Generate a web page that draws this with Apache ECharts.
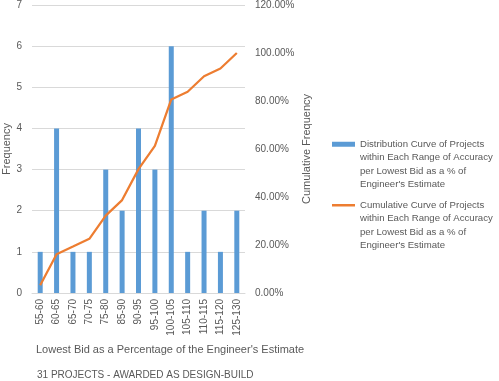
<!DOCTYPE html>
<html>
<head>
<meta charset="utf-8">
<script src="https://cdn.jsdelivr.net/npm/echarts@6/dist/echarts.min.js"></script>
<style>html,body{margin:0;padding:0;background:#fff}#c{width:499px;height:381px}</style>
</head>
<body>
<div id="c"></div>
<script>
var categories = ['55-60','60-65','65-70','70-75','75-80','85-90','90-95','95-100','100-105','105-110','110-115','115-120','125-130'];
var frequency = [1,4,1,1,3,2,4,3,6,1,2,1,2];
var cumulative = [3.23,16.13,19.35,22.58,32.26,38.71,51.61,61.29,80.65,83.87,90.32,93.55,100.00];
var barName = 'Distribution Curve of Projects within Each Range of Accuracy per Lowest Bid as a % of Engineer\'s Estimate';
var lineName = 'Cumulative Curve of Projects within Each Range of Accuracy per Lowest Bid as a % of Engineer\'s Estimate';
var xTitle = 'Lowest Bid as a Percentage of the Engineer\'s Estimate';
var subTitle = '31 PROJECTS - AWARDED AS DESIGN-BUILD';

var FONT = 'Liberation Sans';
var TXT = '#595959';
function wrap(n){
  // three leading blank lines keep the first text line level with the legend icon
  return n === barName
    ? '\n\n\nDistribution Curve of Projects\nwithin Each Range of Accuracy\nper Lowest Bid as a % of\nEngineer\'s Estimate'
    : '\n\n\nCumulative Curve of Projects\nwithin Each Range of Accuracy\nper Lowest Bid as a % of\nEngineer\'s Estimate';
}
var legText = {color: TXT, fontFamily: FONT, fontSize: 9.6, lineHeight: 13.5};
var chart = echarts.init(document.getElementById('c'), null, {renderer:'canvas'});
chart.setOption({
  animation: false,
  textStyle: {fontFamily: FONT},
  title: [
    {text: xTitle, left: 36, top: 344, padding: 0, textStyle: {color: TXT, fontFamily: FONT, fontSize: 11, fontWeight: 'normal'}},
    {text: subTitle, left: 37, top: 370, padding: 0, textStyle: {color: TXT, fontFamily: FONT, fontSize: 10, fontWeight: 'normal'}}
  ],
  grid: {left: 32, right: 254, top: 4, bottom: 88},
  legend: [
    {data: [barName], orient: 'vertical', left: 332, top: 97, padding: 0, itemWidth: 23, itemHeight: 5, icon: 'rect', formatter: wrap, textStyle: legText},
    {data: [lineName], orient: 'vertical', left: 332, top: 158, padding: 0, itemWidth: 23, itemHeight: 2.5, icon: 'rect', formatter: wrap, textStyle: legText}
  ],
  xAxis: {
    type: 'category', data: categories,
    axisLine: {show: true, lineStyle: {color: '#D9D9D9'}},
    axisTick: {show: false},
    axisLabel: {rotate: 90, color: TXT, fontSize: 10, fontFamily: FONT, margin: 6, interval: 0}
  },
  yAxis: [
    {type: 'value', min: 0, max: 7, interval: 1,
     name: 'Frequency', nameLocation: 'middle', nameGap: 17,
     nameTextStyle: {color: TXT, fontSize: 11, fontFamily: FONT},
     axisLabel: {color: TXT, fontSize: 10, fontFamily: FONT, margin: 10},
     axisLine: {show: false}, axisTick: {show: false},
     splitLine: {lineStyle: {color: '#D9D9D9'}}},
    {type: 'value', min: 0, max: 120, interval: 20,
     name: 'Cumulative Frequency', nameLocation: 'middle', nameGap: 56,
     nameTextStyle: {color: TXT, fontSize: 11, fontFamily: FONT},
     axisLabel: {color: TXT, fontSize: 10, fontFamily: FONT, margin: 10, formatter: function(v){return v.toFixed(2)+'%';}},
     axisLine: {show: false}, axisTick: {show: false},
     splitLine: {show: false}}
  ],
  series: [
    {name: barName, type: 'bar', data: frequency, barWidth: 5, itemStyle: {color: '#5B9BD5'}, yAxisIndex: 0},
    {name: lineName, type: 'line', data: cumulative, yAxisIndex: 1, symbol: 'none', lineStyle: {color: '#ED7D31', width: 2.25}, itemStyle: {color: '#ED7D31'}}
  ]
});
</script>
</body>
</html>
